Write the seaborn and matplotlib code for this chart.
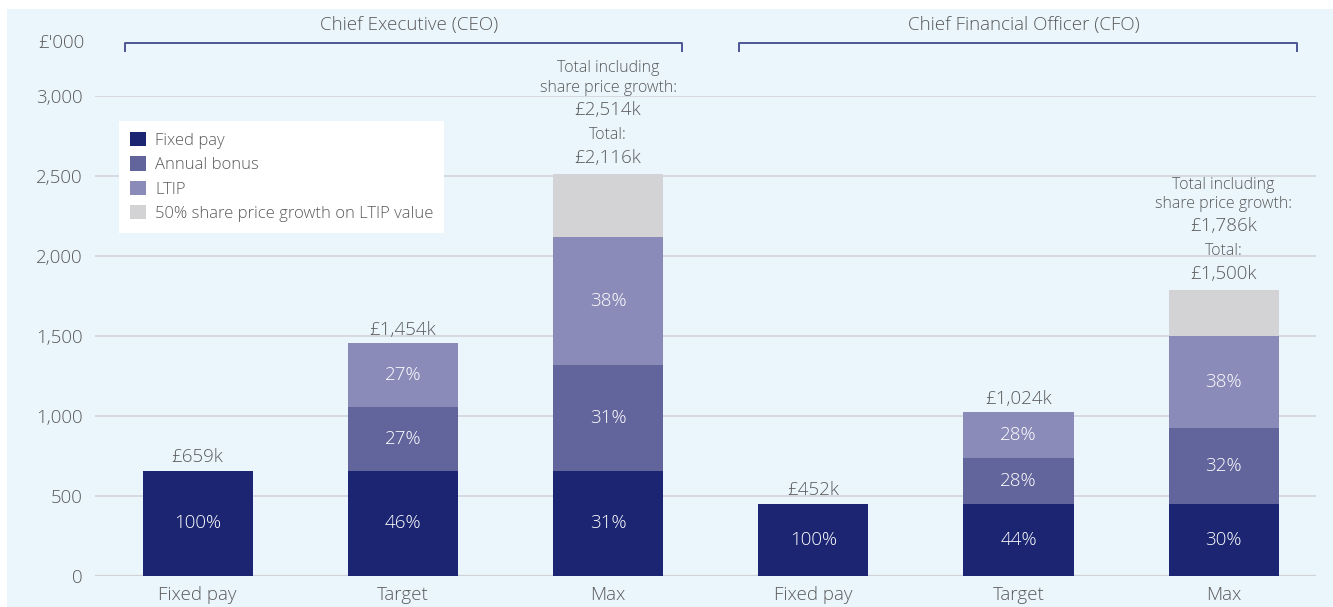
import matplotlib
matplotlib.use("Agg")
import matplotlib.pyplot as plt
from matplotlib.patches import Rectangle, Patch
import seaborn as sns
import pandas as pd

# Remuneration scenarios (£'000)
groups = ["Chief Executive (CEO)", "Chief Financial Officer (CFO)"]
scenarios = ["Fixed pay", "Target", "Max", "Fixed pay", "Target", "Max"]
bar_keys = ["CEO Fixed pay", "CEO Target", "CEO Max", "CFO Fixed pay", "CFO Target", "CFO Max"]

fixed_pay = [659, 659, 659, 452, 452, 452]
annual_bonus = [0, 397, 660, 0, 286, 476]
ltip = [0, 398, 797, 0, 286, 572]
share_growth = [0, 0, 398, 0, 0, 286]

fixed_pct = ["100%", "46%", "31%", "100%", "44%", "30%"]
bonus_pct = ["", "27%", "31%", "", "28%", "32%"]
ltip_pct = ["", "27%", "38%", "", "28%", "38%"]

legend_labels = ["Fixed pay", "Annual bonus", "LTIP", "50% share price growth on LTIP value"]
colors = ["#1B2572", "#62649C", "#8B8BB9", "#D3D3D6"]

TEXT = "#5a5a5a"
BG = "#EAF5FC"
FS = 13.5      # main label size
FS_SMALL = 11.5

sns.set_style("white")
plt.rcParams["font.family"] = ["Open Sans", "DejaVu Sans"]
plt.rcParams["font.weight"] = "light"

df = pd.DataFrame({
    "bar": bar_keys,
    "fixed": fixed_pay,
    "bonus": annual_bonus,
    "ltip": ltip,
    "growth": share_growth,
})
df["c_bonus"] = df["fixed"] + df["bonus"]
df["c_ltip"] = df["c_bonus"] + df["ltip"]
df["c_growth"] = df["c_ltip"] + df["growth"]

W, H = 1333, 607
fig = plt.figure(figsize=(W / 100, H / 100), dpi=100)
fig.patches.append(Rectangle((7 / W, 0), 1, (H - 9) / H, transform=fig.transFigure,
                             facecolor=BG, edgecolor="none", zorder=-10))
ax = fig.add_axes([95 / W, 31 / H, 1221 / W, 480 / H])
ax.set_facecolor("none")

bar_w = 0.537
# Stacked bars: draw cumulative totals from the top layer down
for col, color in [("c_growth", colors[3]), ("c_ltip", colors[2]),
                   ("c_bonus", colors[1]), ("fixed", colors[0])]:
    sns.barplot(data=df, x="bar", y=col, order=bar_keys, color=color, saturation=1,
                width=bar_w, errorbar=None, linewidth=0, ax=ax)

ax.set_xlim(-0.5, 5.45)
ax.set_ylim(0, 3000)
ax.set_yticks(range(0, 3001, 500))
ax.set_yticklabels([f"{v:,}" for v in range(0, 3001, 500)])
ax.set_xticks(range(len(scenarios)))
ax.set_xticklabels(scenarios)
ax.set_xlabel("")
ax.set_ylabel("")
for s in ax.spines.values():
    s.set_visible(False)
ax.tick_params(axis="both", length=0, labelsize=FS, colors=TEXT)
ax.tick_params(axis="x", pad=7)
ax.tick_params(axis="y", pad=9)
ax.yaxis.grid(True, color="#D3D5D8", lw=1.2)
ax.set_axisbelow(True)
ax.axhline(0, color="#C9CBCF", lw=1.6, zorder=0.5)

# Percentage labels inside segments
for i in range(len(bar_keys)):
    f, b, l = fixed_pay[i], annual_bonus[i], ltip[i]
    ax.text(i, f / 2, fixed_pct[i], ha="center", va="center", color="white", fontsize=FS)
    if b:
        ax.text(i, f + b / 2, bonus_pct[i], ha="center", va="center", color="white", fontsize=FS)
    if l:
        ax.text(i, f + b + l / 2, ltip_pct[i], ha="center", va="center", color="white", fontsize=FS)

# Totals above bars
for i in range(len(bar_keys)):
    total = fixed_pay[i] + annual_bonus[i] + ltip[i]
    top = total + share_growth[i]
    if share_growth[i]:
        lines = [(f"£{total:,}k", FS, 11.5), ("Total:", FS_SMALL, 28), (f"£{top:,}k", FS, 46),
                 ("share price growth:", FS_SMALL, 62), ("Total including", FS_SMALL, 76)]
        for txt, fs, off in lines:
            ax.annotate(txt, xy=(i, top), xytext=(0, off), textcoords="offset points",
                        ha="center", va="center", fontsize=fs, color=TEXT,
                        annotation_clip=False)
    else:
        ax.annotate(f"£{total:,}k", xy=(i, top), xytext=(0, 9.5), textcoords="offset points",
                    ha="center", va="center", fontsize=FS, color=TEXT)

# Group brackets and titles
bracket_color = "#4B5694"
for (x0, x1), name in zip([(-0.356, 2.361), (2.639, 5.356)], groups):
    ax.plot([x0, x0, x1, x1], [3275, 3331, 3331, 3275], color=bracket_color, lw=1.4,
            clip_on=False, solid_capstyle="butt")
    ax.text((x0 + x1) / 2 + 0.03, 3444, name, ha="center", va="center", fontsize=FS,
            color=TEXT, clip_on=False)

ax.text(-0.55, 3331, "£'000", ha="right", va="center", fontsize=FS, color=TEXT, clip_on=False)

handles = [Patch(facecolor=c, edgecolor="none") for c in colors]
leg = ax.legend(handles, legend_labels, loc="upper left", bbox_to_anchor=(0.0197, 0.948),
                borderaxespad=0, frameon=True, fancybox=False, fontsize=12,
                handlelength=0.95, handleheight=0.95, handletextpad=0.55,
                labelspacing=0.45, borderpad=0.65)
leg.get_frame().set_facecolor("white")
leg.get_frame().set_edgecolor("none")
leg.get_frame().set_alpha(1)
for t in leg.get_texts():
    t.set_color(TEXT)

fig.savefig("out.png", dpi=100)
